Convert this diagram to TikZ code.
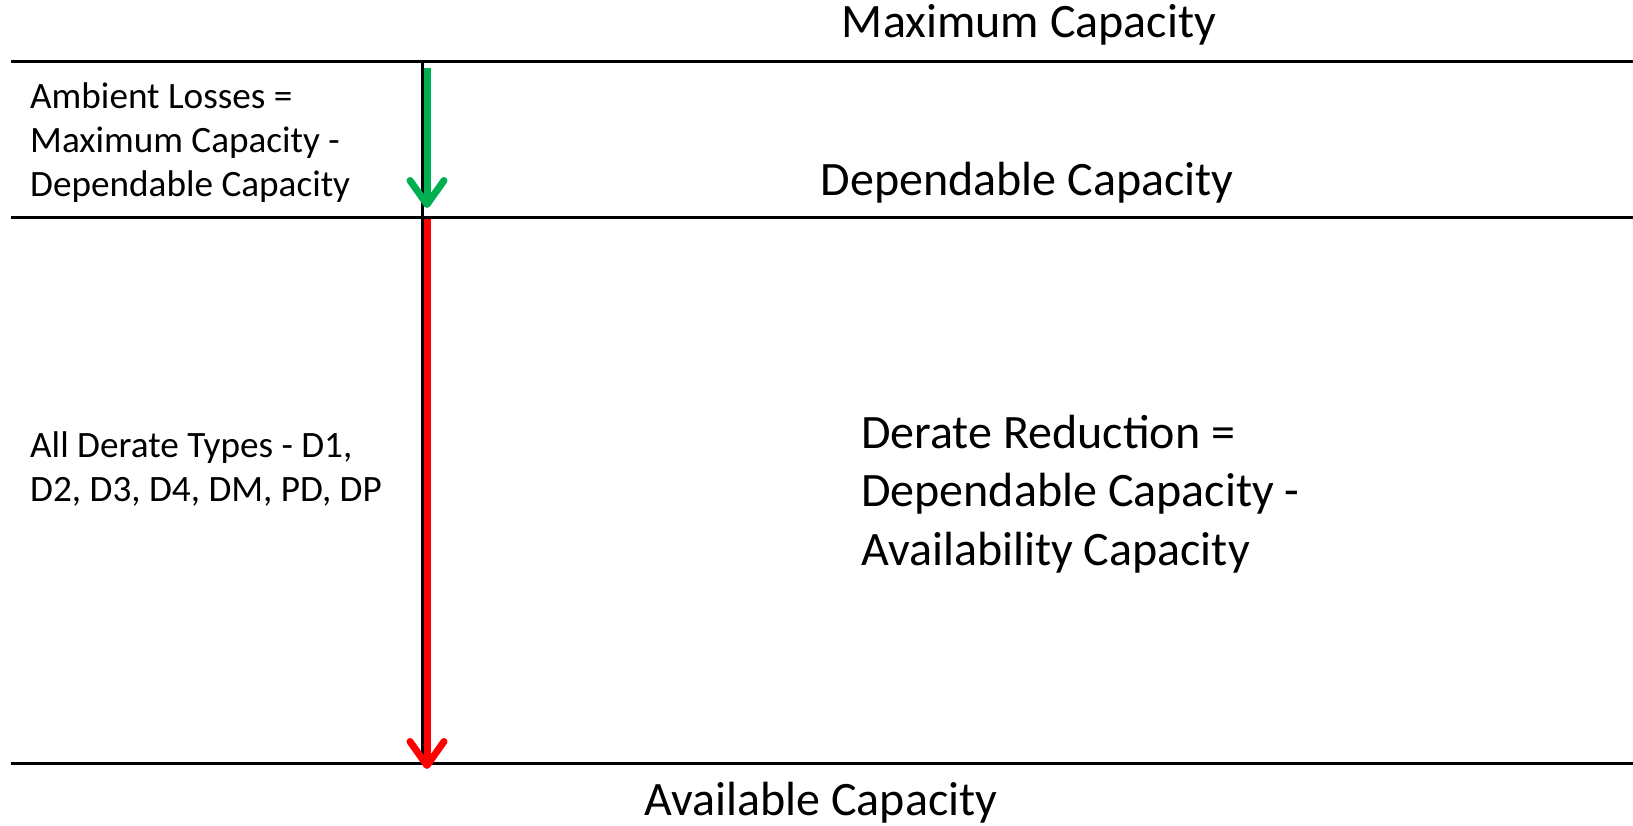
\documentclass[tikz,border=0pt]{standalone}
\usepackage{fontspec}
\setmainfont{Carlito}
\usetikzlibrary{arrows.meta}
\definecolor{arrgreen}{RGB}{0,176,80}
\definecolor{arrred}{RGB}{255,0,0}
\tikzset{
  levelline/.style={line width=3pt, black},
  axisline/.style={line width=3pt, black},
  bigtext/.style={font=\fontsize{48}{58.5}\selectfont, inner sep=0pt, align=left},
  smalltext/.style={font=\fontsize{37.2}{44}\selectfont, inner sep=0pt, align=left},
  flow/.style={line width=7pt, -{Straight Barb[length=24pt,width=34pt,round]}}
}
\begin{document}
\begin{tikzpicture}[x=1pt,y=-1pt]
\path[use as bounding box, clip] (0,0) rectangle (1633,826);
\fill[white] (0,0) rectangle (1633,826);
% level coordinates
\coordinate (l1w) at (11,62);   \coordinate (l1e) at (1633,62);
\coordinate (l2w) at (11,218);  \coordinate (l2e) at (1633,218);
\coordinate (l3w) at (11,763);  \coordinate (l3e) at (1633,763);
\coordinate (vt) at (422,62);   \coordinate (vb) at (422,763);
\coordinate (gs) at (427,68);   \coordinate (ge) at (427,208);
\coordinate (rs) at (427,219);  \coordinate (re) at (427,769);
\draw[levelline] (l1w) -- (l1e);
\draw[levelline] (l2w) -- (l2e);
\draw[levelline] (l3w) -- (l3e);
\draw[axisline] (vt) -- (vb);
\draw[flow, arrgreen] (gs) -- (ge);
\draw[flow, arrred] (rs) -- (re);
% texts
\node[bigtext, anchor=base] (maxcap) at (1029,38) {Maximum Capacity};
\node[bigtext, anchor=base] (depcap) at (1027,196) {Dependable Capacity};
\node[bigtext, anchor=base] (avcap) at (821,815) {Available Capacity};
\node[bigtext, anchor=base west] (derate) at (861,565) {Derate Reduction =\\Dependable Capacity -\\Availability Capacity};
\node[smalltext, anchor=base west] (ambient) at (30,197) {Ambient Losses =\\Maximum Capacity -\\Dependable Capacity};
\node[smalltext, anchor=base west] (alltypes) at (30,501) {All Derate Types - D1,\\D2, D3, D4, DM, PD, DP};
\end{tikzpicture}
\end{document}
